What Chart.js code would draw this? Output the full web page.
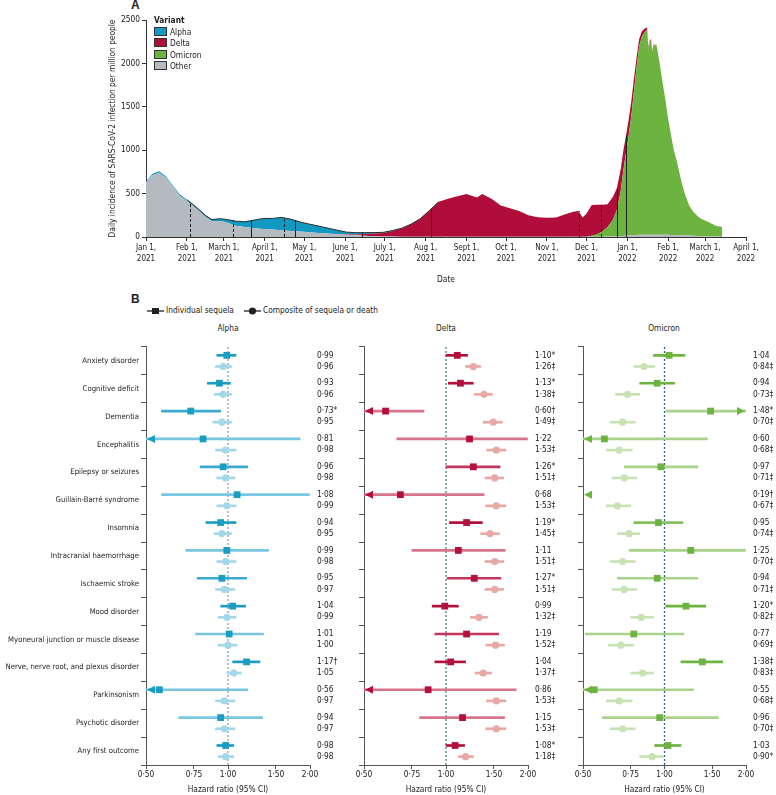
<!DOCTYPE html>
<html>
<head>
<meta charset="utf-8">
<script src="https://cdn.jsdelivr.net/npm/chart.js@4.4.1/dist/chart.umd.min.js"></script>
<style>
  body { margin:0; background:#fff; width:776px; height:795px; position:relative; overflow:hidden;
         font-family:'DejaVu Sans Condensed','DejaVu Sans',sans-serif; color:#222; }
  .abs { position:absolute; white-space:nowrap; }
  canvas { position:absolute; }
  .panel { font-weight:bold; font-size:12px; font-family:'Liberation Sans','DejaVu Sans',sans-serif; }
  .sw { display:inline-block; width:11px; height:7px; border:1px solid #333; margin-right:3px; vertical-align:-1px; }
  .ttl { font-size:8.3px; width:100px; text-align:center; }
</style>
</head>
<body>

<div class="abs panel" style="left:131px;top:-2px">A</div>
<canvas id="chartA" width="776" height="290" style="left:0;top:0"></canvas>
<div class="abs" style="left:154px;top:15px;font-size:8.3px;line-height:11.5px">
  <div style="font-weight:bold">Variant</div>
  <div><span class="sw" style="background:#1299c2"></span>Alpha</div>
  <div><span class="sw" style="background:#b00d3a"></span>Delta</div>
  <div><span class="sw" style="background:#6db33f"></span>Omicron</div>
  <div><span class="sw" style="background:#b4bac0"></span>Other</div>
</div>

<div class="abs panel" style="left:131px;top:292px">B</div>
<svg class="abs" style="left:147px;top:307px" width="17" height="8"><line x1="0" y1="4" x2="17" y2="4" stroke="#222" stroke-width="1.3"/><rect x="5" y="1" width="7" height="6" fill="#222"/></svg>
<div class="abs" style="left:166px;top:305px;font-size:8.3px">Individual sequela</div>
<svg class="abs" style="left:244px;top:307px" width="17" height="8"><line x1="0" y1="4" x2="17" y2="4" stroke="#222" stroke-width="1.3"/><circle cx="8.5" cy="4" r="3.6" fill="#222"/></svg>
<div class="abs" style="left:263px;top:305px;font-size:8.3px">Composite of sequela or death</div>

<div class="abs ttl" style="left:178px;top:323px">Alpha</div>
<div class="abs ttl" style="left:396px;top:323px">Delta</div>
<div class="abs ttl" style="left:614px;top:323px">Omicron</div>

<canvas id="alpha" width="350" height="460" style="left:0;top:335px"></canvas>
<canvas id="delta" width="215" height="460" style="left:350px;top:335px"></canvas>
<canvas id="omicron" width="211" height="460" style="left:565px;top:335px"></canvas>

<script>
'use strict';

Chart.defaults.font.family = "'DejaVu Sans Condensed','DejaVu Sans',sans-serif";
Chart.defaults.color = '#222';

///////////////////////////////////// panel A data /////////////////////////////////////
// days since Jan 1, 2021
let days = [0,5,10,15,20,25,31,38,45,50,56,62,68,75,82,89,96,103,110,117,124,131,138,145,152,159,166,173,180,187,
  194,201,208,215,222,229,236,243,248,251,255,262,269,276,283,290,297,304,311,318,324,328,331,334,338,342,346,350,354,357,
  360,362,364,366,368,370,372,374,376,378,380,381,382,383,384,385,386,387,388,390,392,394,396,398,400,403,406,409,412,415,
  418,421,424,428,432,437];

let otherCases = [630,712,740,685,585,485,415,328,232,182,185,165,130,115,102,92,86,78,70,62,54,47,40,33,27,20,14,10,7,5,
  4,3,3,3,3,3,3,3,3,3,3,3,3,3,3,3,3,3,3,3,3,3,3,3,3,3,4,5,6,8,
  10,12,14,17,20,22,24,25,26,26,27,27,27,27,27,27,27,27,27,26,26,25,25,24,23,22,20,18,16,14,
  12,10,8,6,5,4];

let alphaCases = [10,18,18,15,15,15,15,17,18,18,26,35,52,61,93,122,128,148,135,110,94,79,62,43,25,20,16,12,8,5,
  3,2,1,0,0,0,0,0,0,0,0,0,0,0,0,0,0,0,0,0,0,0,0,0,0,0,0,0,0,0,
  0,0,0,0,0,0,0,0,0,0,0,0,0,0,0,0,0,0,0,0,0,0,0,0,0,0,0,0,0,0,
  0,0,0,0,0,0];

let deltaCases = [0,0,0,0,0,0,0,0,0,0,0,0,0,0,0,0,0,0,0,0,0,0,0,2,4,10,20,29,39,65,
  95,143,207,303,402,437,467,492,467,452,492,437,361,327,297,247,225,219,222,259,287,296,222,265,357,339,308,263,264,252,
  250,224,196,183,170,148,114,85,64,44,26,20,15,12,9,7,5,4,3,3,2,2,1,1,0,0,0,0,0,0,
  0,0,0,0,0,0];

let omicronCases = [0,0,0,0,0,0,0,0,0,0,0,0,0,0,0,0,0,0,0,0,0,0,0,0,0,0,0,0,0,0,
  0,0,0,0,0,0,0,0,0,0,0,0,0,0,0,0,0,0,0,0,0,0,0,0,10,30,60,110,190,300,
  520,760,960,1150,1370,1650,1930,2170,2280,2330,2360,2143,2218,2241,2114,2196,2178,2190,2110,1924,1732,1543,1334,1162,997,821,620,462,344,276,
  233,200,182,154,125,111];

// month starts (days since Jan 1, 2021) used as date ticks
let monthDays = [0,31,59,90,120,151,181,212,243,273,304,334,365,396,424,455];
let monthLabels = [['Jan 1,','2021'],['Feb 1,','2021'],['March 1,','2021'],['April 1,','2021'],['May 1,','2021'],['June 1,','2021'],
  ['July 1,','2021'],['Aug 1,','2021'],['Sept 1,','2021'],['Oct 1,','2021'],['Nov 1,','2021'],['Dec 1,','2021'],
  ['Jan 1,','2022'],['Feb 1,','2022'],['March 1,','2022'],['April 1,','2022']];
let yTicksA = [0,500,1000,1500,2000,2500];

// period markers
let markerDays = [33,66,80,105,113,164,216,328,345,357,364];
let markerDashed = [true,true,false,true,false,false,false,true,true,false,false];

///////////////////////////////////// panel B data /////////////////////////////////////
let conditions = ['Anxiety disorder','Cognitive deficit','Dementia','Encephalitis','Epilepsy or seizures','Guillain-Barré syndrome',
  'Insomnia','Intracranial haemorrhage','Ischaemic stroke','Mood disorder','Myoneural junction or muscle disease',
  'Nerve, nerve root, and plexus disorder','Parkinsonism','Psychotic disorder','Any first outcome'];
let hrTicks = [0.5,0.75,1,1.5,2];

let alphaInd     = [0.99,0.93,0.73,0.81,0.96,1.08,0.94,0.99,0.95,1.04,1.01,1.17,0.56,0.94,0.98];
let alphaIndLo   = [0.91,0.84,0.57,0.45,0.79,0.57,0.83,0.70,0.77,0.94,0.76,1.04,0.40,0.66,0.91];
let alphaIndHi   = [1.07,1.02,0.94,1.84,1.18,1.99,1.07,1.41,1.17,1.16,1.35,1.31,1.18,1.34,1.05];
let alphaIndMark = ['','','*','','','','','','','','','†','','',''];
let alphaComp     = [0.96,0.96,0.95,0.98,0.98,0.99,0.95,0.98,0.97,0.99,1.00,1.05,0.97,0.97,0.98];
let alphaCompLo   = [0.90,0.89,0.88,0.90,0.91,0.91,0.89,0.91,0.90,0.92,0.92,0.99,0.90,0.90,0.92];
let alphaCompHi   = [1.03,1.03,1.03,1.07,1.06,1.07,1.03,1.07,1.06,1.07,1.08,1.12,1.06,1.06,1.05];
let alphaCompMark = ['','','','','','','','','','','','','','',''];

let deltaInd     = [1.10,1.13,0.60,1.22,1.26,0.68,1.19,1.11,1.27,0.99,1.19,1.04,0.86,1.15,1.08];
let deltaIndLo   = [1.00,1.02,0.40,0.66,1.00,0.40,1.03,0.75,1.01,0.89,0.91,0.91,0.40,0.80,1.00];
let deltaIndHi   = [1.20,1.26,0.83,1.99,1.58,1.38,1.36,1.65,1.59,1.11,1.56,1.18,1.81,1.64,1.17];
let deltaIndMark = ['*','*','†','','*','','*','','*','','','','','','*'];
let deltaComp     = [1.26,1.38,1.49,1.53,1.51,1.53,1.45,1.51,1.51,1.32,1.52,1.37,1.53,1.53,1.18];
let deltaCompLo   = [1.18,1.27,1.37,1.41,1.39,1.40,1.34,1.39,1.39,1.23,1.40,1.28,1.41,1.40,1.11];
let deltaCompHi   = [1.34,1.48,1.61,1.66,1.63,1.66,1.57,1.63,1.63,1.42,1.64,1.47,1.66,1.66,1.26];
let deltaCompMark = ['‡','‡','‡','‡','‡','‡','‡','‡','‡','‡','‡','‡','‡','‡','‡'];

let omiInd     = [1.04,0.94,1.48,0.60,0.97,0.19,0.95,1.25,0.94,1.20,0.77,1.38,0.55,0.96,1.03];
let omiIndLo   = [0.91,0.81,1.01,0.40,0.71,0.08,0.77,0.74,0.67,1.01,0.51,1.15,0.40,0.59,0.92];
let omiIndHi   = [1.19,1.09,2.30,1.44,1.33,0.46,1.17,1.99,1.33,1.42,1.18,1.64,1.28,1.58,1.15];
let omiIndMark = ['','','*','','','†','','','','*','','‡','','',''];
let omiComp     = [0.84,0.73,0.70,0.68,0.71,0.67,0.74,0.70,0.71,0.82,0.69,0.83,0.68,0.70,0.90];
let omiCompLo   = [0.77,0.66,0.63,0.61,0.64,0.61,0.67,0.63,0.64,0.75,0.62,0.75,0.61,0.63,0.81];
let omiCompHi   = [0.92,0.81,0.78,0.76,0.79,0.75,0.81,0.78,0.79,0.91,0.77,0.91,0.76,0.78,0.99];
let omiCompMark = ['‡','‡','‡','‡','‡','‡','‡','‡','‡','‡','‡','‡','‡','‡','*'];

///////////////////////////////////// panel A chart /////////////////////////////////////
function series(vals){ return days.map((d,i) => ({x:d, y:vals[i]})); }

function totalAt(d){
  let i = days.findIndex(v => v >= d);
  if (i <= 0) i = 1;
  let t = (d - days[i-1]) / (days[i] - days[i-1]);
  let sum = k => otherCases[k] + alphaCases[k] + deltaCases[k] + omicronCases[k];
  return sum(i-1) + t * (sum(i) - sum(i-1));
}

const markerLines = {
  id: 'markerLines',
  afterDatasetsDraw(chart){
    let {ctx} = chart, xs = chart.scales.x, ys = chart.scales.y;
    ctx.save();
    ctx.strokeStyle = '#1e1e1e';
    ctx.lineWidth = 1;
    markerDays.forEach((d,k) => {
      let x = Math.round(xs.getPixelForValue(d)) + 0.5;
      ctx.setLineDash(markerDashed[k] ? [3,2] : []);
      ctx.beginPath();
      ctx.moveTo(x, ys.getPixelForValue(0));
      ctx.lineTo(x, ys.getPixelForValue(totalAt(d)));
      ctx.stroke();
    });
    ctx.restore();
  }
};

new Chart(document.getElementById('chartA'), {
  type: 'line',
  data: {
    datasets: [
      {label:'Other', data: series(otherCases), backgroundColor:'#b4bac0', fill:'origin'},
      {label:'Omicron', data: series(omicronCases), backgroundColor:'#6db33f', fill:'-1'},
      {label:'Delta', data: series(deltaCases), backgroundColor:'#b00d3a', fill:'-1'},
      {label:'Alpha', data: series(alphaCases), backgroundColor:'#1299c2', fill:'-1',
        borderWidth: 1,
        segment: { borderColor: c => (c.p0.parsed.x >= 28 && c.p0.parsed.x < 222) ? '#2a2a2a' : 'rgba(0,0,0,0)' }}
    ]
  },
  options: {
    responsive: false,
    animation: false,
    layout: { padding: {left:0, right:30, top:20, bottom:0} },
    elements: { point: {radius:0}, line: {tension:0, borderWidth:0} },
    plugins: { legend: {display:false}, tooltip: {enabled:false}, filler: {drawTime:'beforeDatasetsDraw'} },
    scales: {
      x: {
        type: 'linear', min: 0, max: 455,
        afterBuildTicks: s => { s.ticks = monthDays.map(v => ({value:v})); },
        afterFit: s => { s.height = 53; },
        ticks: { autoSkip:false, maxRotation:0, padding:2, font:{size:8, lineHeight:1.3},
                 callback: (v,i) => monthLabels[i] },
        grid: { drawOnChartArea:false, tickLength:4, color:'#333' },
        border: { color:'#333' },
        title: { display:true, text:'Date', font:{size:8.3}, padding:{top:0, bottom:5} }
      },
      y: {
        stacked: true, min: 0, max: 2500,
        afterBuildTicks: s => { s.ticks = yTicksA.map(v => ({value:v})); },
        afterFit: s => { s.width = 146; },
        ticks: { padding:2, font:{size:8.3}, callback: v => String(v) },
        grid: { drawOnChartArea:false, tickLength:4, color:'#333' },
        border: { color:'#333' },
        title: { display:true, text:'Daily incidence of SARS-CoV-2 infection per million people',
                 font:{size:8.3}, padding:{top:108, bottom:0} }
      }
    }
  },
  plugins: [markerLines]
});

///////////////////////////////////// panel B charts /////////////////////////////////////
const ciArrows = {
  id: 'ciArrows',
  afterDatasetsDraw(chart){
    let {ctx, chartArea} = chart, xs = chart.scales.x, ys = chart.scales.yv;
    ctx.save();
    chart.data.datasets.forEach(ds => {
      if (ds.type !== 'bar') return;
      ctx.fillStyle = ds.arrowColor;
      ds.data.forEach(p => {
        let y = ys.getPixelForValue(p.y);
        if (p.x[0] < xs.min) tri(ctx, chartArea.left + 1, y, 1);
        if (p.x[1] > xs.max) tri(ctx, chartArea.right - 1, y, -1);
      });
    });
    ctx.restore();
  }
};
function tri(ctx, x, y, dir){
  ctx.beginPath();
  ctx.moveTo(x, y);
  ctx.lineTo(x + dir*8, y - 4);
  ctx.lineTo(x + dir*8, y + 4);
  ctx.closePath();
  ctx.fill();
}

function hrText(v, mark){ return v.toFixed(2).replace('.', '·') + mark; }

function forest(id, ind, indLo, indHi, indMark, comp, compLo, compHi, compMark, look){
  let rowPos = [], rowText = [];
  conditions.forEach((c,i) => {
    rowPos.push(i - 0.2, i + 0.2);
    rowText.push(hrText(ind[i], indMark[i]), hrText(comp[i], compMark[i]));
  });
  // wide intervals are drawn in a paler tone, like the original
  let ciColor = c => {
    let r = c.raw && c.raw.x ? c.raw.x[1] / c.raw.x[0] : 1;
    return r > 1.75 ? look.wide : r > 1.45 ? look.mid : look.dark;
  };
  return new Chart(document.getElementById(id), {
    type: 'scatter',
    data: {
      datasets: [
        {type:'scatter', data: ind.map((v,i) => ({x:v, y:i-0.2})), pointStyle:'rect', pointRadius:4.8,
          backgroundColor:look.dark, borderWidth:0, xAxisID:'x', yAxisID:'yv', order:1},
        {type:'scatter', data: comp.map((v,i) => ({x:v, y:i+0.2})), pointStyle:'circle', pointRadius:3.6,
          backgroundColor:look.light, borderWidth:0, xAxisID:'x', yAxisID:'yv', order:1},
        {type:'bar', indexAxis:'y', data: ind.map((v,i) => ({y:i-0.2, x:[indLo[i], indHi[i]]})),
          backgroundColor:ciColor, arrowColor:look.dark, barThickness:2, grouped:false,
          xAxisID:'x', yAxisID:'yv', order:2},
        {type:'bar', indexAxis:'y', data: comp.map((v,i) => ({y:i+0.2, x:[compLo[i], compHi[i]]})),
          backgroundColor:look.light, arrowColor:look.light, barThickness:2, grouped:false,
          xAxisID:'x', yAxisID:'yv', order:2},
        {type:'line', data:[{x:1, y:-0.5},{x:1, y:14.5}], borderColor:look.ref, borderWidth:1.3,
          borderDash:[2,2], pointRadius:0, xAxisID:'x', yAxisID:'yv', order:3}
      ]
    },
    options: {
      responsive: false,
      animation: false,
      layout: { padding: {left:0, right:0, top:4, bottom:0} },
      plugins: { legend:{display:false}, tooltip:{enabled:false} },
      scales: {
        x: {
          type:'logarithmic', min:0.5, max:2, offset:false, beginAtZero:false,
          afterBuildTicks: s => { s.ticks = hrTicks.map(v => ({value:v})); },
          afterFit: s => { s.height = 30; },
          ticks: { autoSkip:false, maxRotation:0, padding:1, font:{size:8.3}, callback: v => hrText(v, '') },
          grid: { drawOnChartArea:false, tickLength:4, color:'#555' },
          border: { color:'#555' },
          title: { display:true, text:'Hazard ratio (95% CI)', font:{size:8.3}, padding:{top:0, bottom:0} }
        },
        y: {
          type:'category', position:'left', labels: conditions, offset:true,
          afterFit: s => { s.width = look.leftW; },
          ticks: { autoSkip:false, padding:2, font:{size:7.7}, callback: (v,i) => look.names ? conditions[i] : '' },
          grid: { offset:true, drawOnChartArea:false, tickLength:5, color:'#555' },
          border: { color:'#555' }
        },
        yv: { axis:'y', type:'linear', display:false, reverse:true, min:-0.5, max:14.5, offset:false,
              grid:{offset:false} },
        yr: {
          axis:'y', type:'linear', position:'right', reverse:true, min:-0.5, max:14.5, offset:false,
          afterBuildTicks: s => { s.ticks = rowPos.map(v => ({value:v})); },
          afterFit: s => { s.width = look.rightW; },
          ticks: { autoSkip:false, padding:7, font:{size:8.3}, callback: (v,i) => rowText[i] },
          grid: { display:false, drawTicks:false },
          border: { display:false }
        }
      }
    },
    plugins: [ciArrows]
  });
}

forest('alpha', alphaInd, alphaIndLo, alphaIndHi, alphaIndMark, alphaComp, alphaCompLo, alphaCompHi, alphaCompMark,
  {dark:'#1a9cc3', mid:'#3aabcf', wide:'#79c6e0', light:'#a3d7ea', ref:'#8e9ca6', names:true, leftW:146, rightW:40});
forest('delta', deltaInd, deltaIndLo, deltaIndHi, deltaIndMark, deltaComp, deltaCompLo, deltaCompHi, deltaCompMark,
  {dark:'#b3103d', mid:'#c2365f', wide:'#d7748c', light:'#e8a8a6', ref:'#4f7d8c', names:false, leftW:14, rightW:37});
forest('omicron', omiInd, omiIndLo, omiIndHi, omiIndMark, omiComp, omiCompLo, omiCompHi, omiCompMark,
  {dark:'#6db33f', mid:'#86c060', wide:'#a9d28c', light:'#c8e2b4', ref:'#2f5f7a', names:false, leftW:18, rightW:30});
</script>
</body>
</html>
